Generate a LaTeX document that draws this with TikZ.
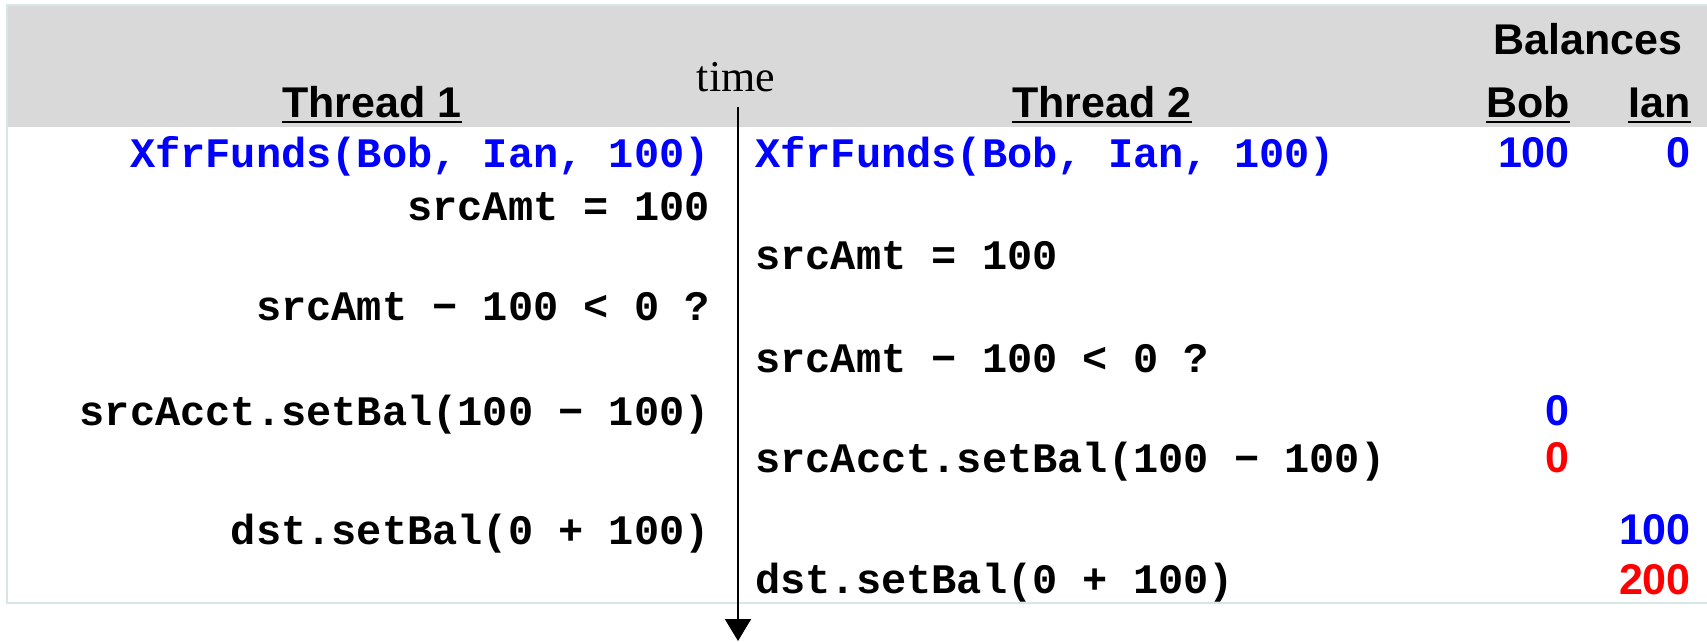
\documentclass[tikz,border=0pt]{standalone}
\usepackage{fontspec}
\setmainfont{Liberation Serif}
\newfontfamily\arialf{Liberation Sans}
\newfontfamily\courf{Liberation Mono}
\usetikzlibrary{arrows.meta}
\definecolor{hdrgray}{RGB}{217,217,217}
\definecolor{boxline}{RGB}{214,230,230}
\definecolor{codeblue}{RGB}{0,0,255}
\definecolor{alertred}{RGB}{255,0,0}
\begin{document}
\begin{tikzpicture}[x=1pt,y=-1pt,
  code/.style={inner sep=0pt, font=\courf\bfseries\fontsize{42}{50}\selectfont},
  tone/.style={code, anchor=base east},
  ttwo/.style={code, anchor=base west},
  hdr/.style={inner sep=0pt, font=\arialf\bfseries\fontsize{43}{50}\selectfont, anchor=base},
  bal/.style={inner sep=0pt, font=\arialf\bfseries\fontsize{43}{50}\selectfont, anchor=base east},
  uline/.style={line width=2.5pt},
  timeline/.style={line width=2pt, -{Triangle[width=26pt,length=22pt]}},
]
\useasboundingbox (0,0) rectangle (1707,642);
\fill[hdrgray] (8,6) rectangle (1712,127);
\draw[boxline, line width=2pt] (1712,5) -- (7,5) -- (7,603) -- (1712,603);

% headers
\node[hdr] (th1) at (372,117) {Thread 1};
\node[hdr] (th2) at (1102,117) {Thread 2};
\node[hdr] (balances) at (1588,55) {Balances};
\node[hdr, anchor=base east] (bob) at (1570,117) {Bob};
\node[hdr, anchor=base east] (ian) at (1691,117) {Ian};
\foreach \n in {th1,th2,bob,ian}
  \draw[uline] ([yshift=-5pt]\n.base west) -- ([yshift=-5pt]\n.base east);

% time arrow
\node[inner sep=0pt, font=\fontsize{44}{50}\selectfont, anchor=base] (time) at (736,91) {time};
\coordinate (tstart) at (738,107);
\coordinate (tend) at (738,641);
\draw[timeline] (tstart) -- (tend);

% thread 1
\node[tone, text=codeblue] (a1) at (710,167) {XfrFunds(Bob, Ian, 100)};
\node[tone] (a2) at (710,220) {srcAmt = 100};
\node[tone] (a3) at (710,320) {srcAmt − 100 < 0 ?};
\node[tone] (a4) at (710,425) {srcAcct.setBal(100 − 100)};
\node[tone] (a5) at (710,544) {dst.setBal(0 + 100)};

% thread 2
\node[ttwo, text=codeblue] (b1) at (755,167) {XfrFunds(Bob, Ian, 100)};
\node[ttwo] (b2) at (755,269) {srcAmt = 100};
\node[ttwo] (b3) at (755,372) {srcAmt − 100 < 0 ?};
\node[ttwo] (b4) at (755,472) {srcAcct.setBal(100 − 100)};
\node[ttwo] (b5) at (755,593) {dst.setBal(0 + 100)};

% balances
\node[bal, text=codeblue] (bob1) at (1570,167) {100};
\node[bal, text=codeblue] (ian1) at (1691,167) {0};
\node[bal, text=codeblue] (bob2) at (1570,425) {0};
\node[bal, text=alertred] (bob3) at (1570,472) {0};
\node[bal, text=codeblue] (ian2) at (1691,544) {100};
\node[bal, text=alertred] (ian3) at (1691,594) {200};
\end{tikzpicture}
\end{document}
